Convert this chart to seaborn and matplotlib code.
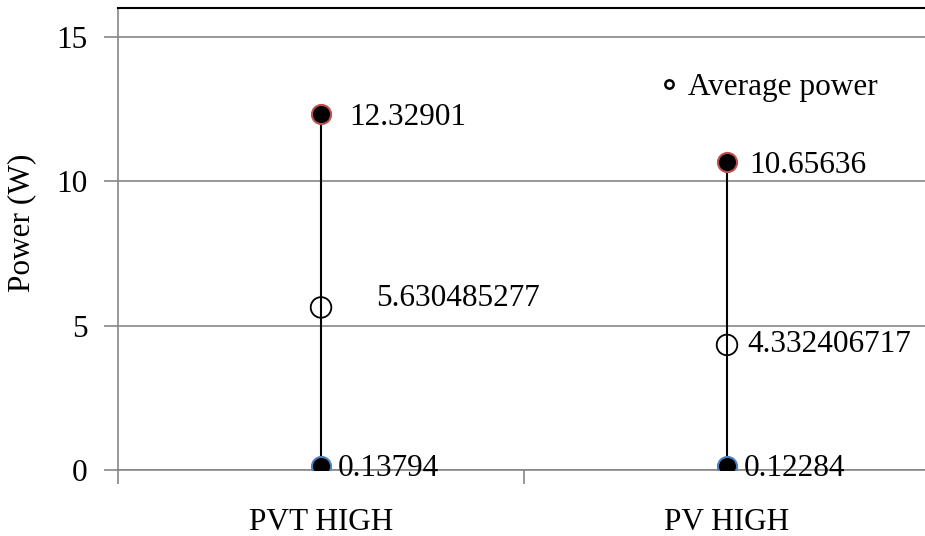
import pandas as pd
import matplotlib.pyplot as plt
import seaborn as sns

categories = ['PVT HIGH', 'PV HIGH']
high_power = [12.32901, 10.65636]
avg_power = [5.630485277, 4.332406717]
low_power = [0.13794, 0.12284]

df = pd.DataFrame({'system': categories, 'high': high_power,
                   'avg': avg_power, 'low': low_power})

sns.set_style('white')
plt.rcParams['font.family'] = ['Liberation Serif', 'DejaVu Serif']
plt.rcParams['text.color'] = 'black'
plt.rcParams['axes.labelcolor'] = 'black'

fig = plt.figure(figsize=(9.25, 5.36), dpi=100)
ax = fig.add_axes([0.1276, 0.1231, 0.8778, 0.8619])

# high-low line
ax.vlines(range(len(df)), df['low'], df['high'], color='black', lw=1.5, zorder=2)

sns.scatterplot(data=df, x='system', y='high', ax=ax, s=190, color='black',
                edgecolor='#c0504d', linewidth=1.5, zorder=3)
sns.scatterplot(data=df, x='system', y='low', ax=ax, s=190, color='black',
                edgecolor='#4f81bd', linewidth=1.5, zorder=3)
sns.scatterplot(data=df, x='system', y='avg', ax=ax, s=220, facecolor='none',
                edgecolor='black', linewidth=1.3, zorder=3)

fs = 22.5
# data labels (pixel offsets as in original)
offsets = {
    'high': [(28, -3), (22, -3)],
    'avg': [(55, 9), (20, 0)],
    'low': [(17, -2), (17, -2)],
}
for col, fmt in [('high', '{:.5f}'), ('avg', '{:.9f}'), ('low', '{:.5f}')]:
    for i, v in enumerate(df[col]):
        ax.annotate(fmt.format(v), (i, v), xytext=offsets[col][i],
                    textcoords='offset pixels', va='center', ha='left',
                    fontsize=fs, color='black')

# legend
ax.plot([], [], 'o', ms=6, mfc='none', mec='black', mew=1.8, label='Average power')
ax.legend(loc='center left', bbox_to_anchor=(0.652, 0.829), frameon=False,
          fontsize=fs, handlelength=0.4, handletextpad=0.4, borderpad=0,
          labelcolor='black')

ax.set_ylim(0, 16)
ax.set_xlim(-0.5, 1.5)
ax.set_yticks([0, 5, 10, 15])
ax.tick_params(axis='y', labelsize=fs, length=10, width=1.2, color='#868686',
               labelcolor='black', left=True, pad=12)
ax.set_xticks([0, 1])
ax.set_xticklabels(categories)
ax.set_xticks([-0.5, 0.5, 1.5], minor=True)
ax.tick_params(axis='x', which='major', labelsize=fs, length=0, pad=27,
               labelcolor='black')
ax.tick_params(axis='x', which='minor', length=10, width=1.2, color='#868686',
               bottom=True)
ax.grid(axis='y', color='#868686', lw=1.2)
ax.set_axisbelow(True)
ax.set_xlabel('')
ax.set_ylabel('Power (W)', fontsize=fs, color='black')
ax.yaxis.set_label_coords(-0.101, 0.535)

for s in ['left', 'bottom']:
    ax.spines[s].set_color('#868686')
    ax.spines[s].set_linewidth(1.2)
ax.spines['top'].set_color('black')
ax.spines['top'].set_linewidth(1.5)
ax.spines['right'].set_visible(False)

fig.savefig('out.png', dpi=100)
